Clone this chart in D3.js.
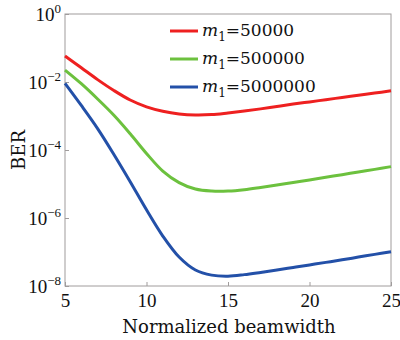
<!DOCTYPE html>
<html>
<head>
  <meta charset="utf-8">
  <script src="https://d3js.org/d3.v7.min.js"></script>
  <style>
    body { margin: 0; background: #fff; }
    text { font-family: "DejaVu Serif", serif; fill: #111; }
  </style>
</head>
<body>
  <script type="text/javascript">
    // data
    var beamwidth = [5,6,7,8,9,10,11,12,13,14,15,16,17,18,19,20,21,22,23,24,25];
    var ber50k  = [5.82e-2,2.63e-2,1.175e-2,5.62e-3,2.95e-3,1.86e-3,1.38e-3,1.15e-3,1.07e-3,1.10e-3,1.23e-3,
                   1.40e-3,1.62e-3,1.91e-3,2.24e-3,2.60e-3,3.02e-3,3.51e-3,4.07e-3,4.73e-3,5.50e-3];
    var ber500k = [2.24e-2,8.9e-3,3.16e-3,1.05e-3,3.0e-4,7.9e-5,2.4e-5,1.1e-5,7.1e-6,6.2e-6,6.2e-6,
                   6.8e-6,7.9e-6,9.3e-6,1.11e-5,1.32e-5,1.58e-5,1.88e-5,2.26e-5,2.69e-5,3.24e-5];
    var ber5m   = [9.1e-3,2.04e-3,4.27e-4,7.4e-5,1.17e-5,1.74e-6,2.95e-7,7.1e-8,2.95e-8,2.09e-8,1.95e-8,
                   2.16e-8,2.51e-8,2.95e-8,3.51e-8,4.17e-8,4.95e-8,5.89e-8,7.08e-8,8.51e-8,1.02e-7];
    var seriesNames = ["50000", "500000", "5000000"];
    var seriesColors = ["#ee2020", "#6cc13e", "#2350a8"];
    var xTicks = [5, 10, 15, 20, 25];
    var yTicks = [0, -2, -4, -6, -8];   // powers of ten

    var w = 400, h = 340;
    var mLeft = 65, mTop = 14, mRight = 391, mBottom = 286;
    var numFont = "Liberation Serif, serif";

    var svg = d3.select("body").append("svg")
      .attr("width", w)
      .attr("height", h);

    var xScale = d3.scaleLinear().domain([5, 25]).range([mLeft, mRight]);
    var yScale = d3.scaleLog().domain([1e-8, 1]).range([mBottom, mTop]);

    // frame
    svg.append("rect")
      .attr("x", mLeft).attr("y", mTop)
      .attr("width", mRight - mLeft).attr("height", mBottom - mTop)
      .attr("fill", "none")
      .attr("stroke", "#a09c9c")
      .attr("stroke-width", 1);

    // x axis, ticks pointing inward
    var xAxis = svg.append("g")
      .attr("transform", "translate(0," + mBottom + ")")
      .call(d3.axisBottom(xScale).tickValues(xTicks).tickSizeInner(-4).tickSizeOuter(0).tickPadding(8));
    xAxis.select(".domain").remove();
    xAxis.selectAll("line").attr("stroke", "#a09c9c");
    xAxis.selectAll("text")
      .attr("font-size", 19)
      .attr("fill", "#111")
      .style("font-family", numFont);

    // y axis ticks
    var yAxis = svg.append("g")
      .attr("transform", "translate(" + mLeft + ",0)")
      .call(d3.axisLeft(yScale).tickValues(yTicks.map(function(p){ return Math.pow(10, p); }))
            .tickSizeInner(-4).tickSizeOuter(0).tickFormat(""));
    yAxis.select(".domain").remove();
    yAxis.selectAll("line").attr("stroke", "#a09c9c");

    // y tick labels with superscripts
    var yLab = svg.selectAll(".ylab")
      .data(yTicks)
      .enter()
      .append("text")
      .attr("class", "ylab")
      .attr("x", mLeft - 4)
      .attr("y", function(d){ return yScale(Math.pow(10, d)) + 7; })
      .attr("text-anchor", "end")
      .attr("font-size", 19)
      .style("font-family", numFont);
    yLab.append("tspan").text("10");
    yLab.append("tspan")
      .attr("dy", -8)
      .attr("font-size", 13)
      .text(function(d){ return d === 0 ? "0" : "\u2212" + Math.abs(d); });

    // axis titles
    svg.append("text")
      .attr("x", 229)
      .attr("y", 333)
      .attr("text-anchor", "middle")
      .attr("font-size", 18)
      .text("Normalized beamwidth");

    svg.append("text")
      .attr("transform", "translate(25,150) rotate(-90)")
      .attr("text-anchor", "middle")
      .attr("font-size", 18)
      .text("BER");

    // curves
    var allSeries = [ber50k, ber500k, ber5m];
    var line = d3.line()
      .x(function(d, i){ return xScale(beamwidth[i]); })
      .y(function(d){ return yScale(d); })
      .curve(d3.curveCatmullRom.alpha(0.5));

    svg.selectAll(".curve")
      .data(allSeries)
      .enter()
      .append("path")
      .attr("class", "curve")
      .attr("d", line)
      .attr("fill", "none")
      .attr("stroke", function(d, i){ return seriesColors[i]; })
      .attr("stroke-width", 3);

    // legend
    var leg = svg.selectAll(".leg")
      .data(seriesNames)
      .enter()
      .append("g")
      .attr("class", "leg")
      .attr("transform", function(d, i){ return "translate(0," + (31 + i * 28) + ")"; });

    leg.append("line")
      .attr("x1", 170).attr("x2", 198)
      .attr("y1", 0).attr("y2", 0)
      .attr("stroke", function(d, i){ return seriesColors[i]; })
      .attr("stroke-width", 3);

    var lt = leg.append("text")
      .attr("x", 202)
      .attr("y", 5)
      .attr("font-size", 17);
    lt.append("tspan").attr("font-style", "italic").text("m");
    lt.append("tspan").attr("dy", 5).attr("font-size", 12).text("1");
    lt.append("tspan").attr("dy", -5).text(function(d){ return "=" + d; });
  </script>
</body>
</html>
